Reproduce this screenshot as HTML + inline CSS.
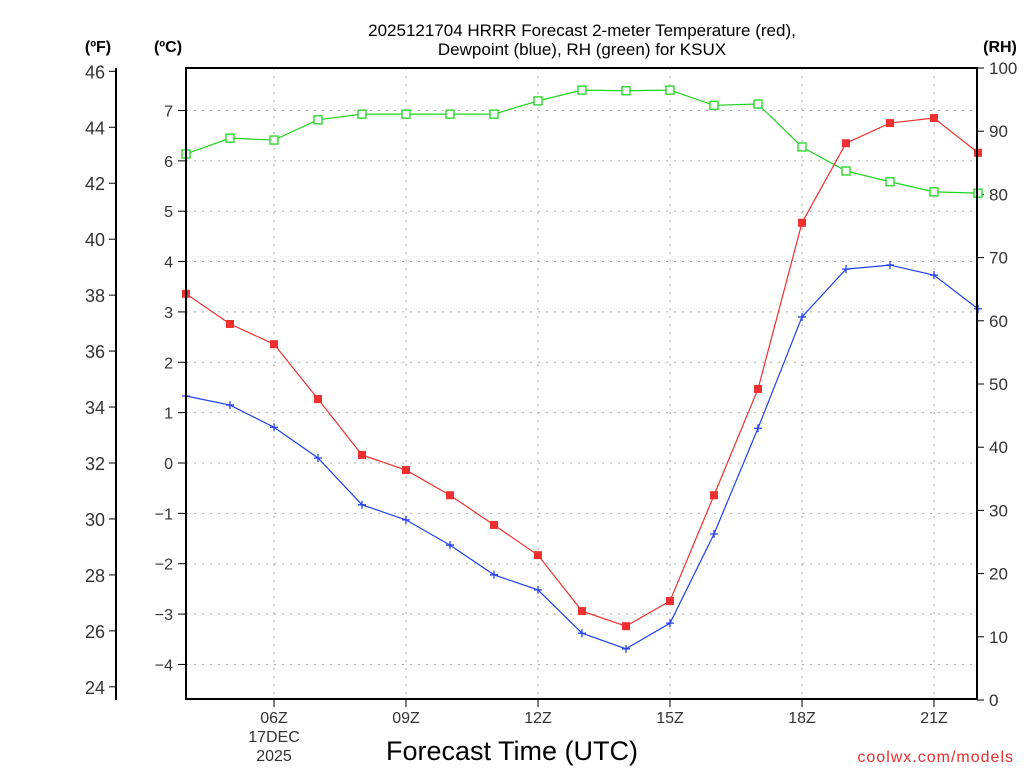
<!DOCTYPE html>
<html><head><meta charset="utf-8"><style>
body{margin:0;background:#fff;width:1024px;height:768px;overflow:hidden}
svg{font-family:"Liberation Sans",sans-serif}
</style></head><body>
<svg id="chart" width="1024" height="768" xmlns="http://www.w3.org/2000/svg">
<text x="582" y="36" font-size="17" text-anchor="middle" fill="#000">2025121704 HRRR Forecast 2-meter Temperature (red),</text>
<text x="582" y="55" font-size="17" text-anchor="middle" fill="#000">Dewpoint (blue), RH (green) for KSUX</text>
<text x="98" y="52" font-size="16" font-weight="bold" text-anchor="middle">(ºF)</text>
<text x="168" y="52" font-size="16" font-weight="bold" text-anchor="middle">(ºC)</text>
<text x="1000" y="52" font-size="16" font-weight="bold" text-anchor="middle">(RH)</text>
<text x="512" y="760" font-size="27" text-anchor="middle">Forecast Time (UTC)</text>
<text x="1014" y="762" font-size="16" text-anchor="end" fill="#e83030" letter-spacing="1">coolwx.com/models</text>
<g id="grid"></g><g id="axes"></g><g id="series"></g>
<rect x="186" y="68" width="791" height="631" fill="none" stroke="#000" stroke-width="2"/>
</svg>
<script>
const hours=[4,5,6,7,8,9,10,11,12,13,14,15,16,17,18,19,20,21,22];
const tempC=[3.36,2.76,2.36,1.27,0.16,-0.14,-0.64,-1.23,-1.83,-2.94,-3.24,-2.74,-0.64,1.47,4.77,6.35,6.75,6.85,6.16];
const dewC=[1.33,1.15,0.71,0.10,-0.83,-1.13,-1.63,-2.22,-2.52,-3.38,-3.69,-3.18,-1.41,0.69,2.90,3.85,3.93,3.73,3.06];
const rh=[86.4,88.9,88.6,91.8,92.7,92.7,92.7,92.7,94.8,96.5,96.4,96.5,94.1,94.3,87.5,83.7,82.0,80.4,80.2];
const cTicks=[7,6,5,4,3,2,1,0,-1,-2,-3,-4];
const fTicks=[46,44,42,40,38,36,34,32,30,28,26,24];
const rhTicks=[100,90,80,70,60,50,40,30,20,10,0];
const xTickHours=[6,9,12,15,18,21];
const xTickLabels=["06Z","09Z","12Z","15Z","18Z","21Z"];
const NS="http://www.w3.org/2000/svg";
const X=h=>186+(h-4)*44;
const YC=c=>463-c*50.36;
const YF=f=>YC((f-32)*5/9);
const YR=r=>700-r*6.32;
function mk(t,a,p){const e=document.createElementNS(NS,t);for(const k in a)e.setAttribute(k,a[k]);p.appendChild(e);return e;}
const grid=document.getElementById('grid'),axes=document.getElementById('axes'),ser=document.getElementById('series');
cTicks.forEach(c=>{
 const g=mk('line',{x1:186,x2:977,y1:YC(c),y2:YC(c),stroke:'#aaa','stroke-dasharray':'2,6'},grid);
 
 mk('line',{x1:178,x2:186,y1:YC(c),y2:YC(c),stroke:'#000'},axes);
 const l=mk('text',{x:173,y:YC(c)+6,'font-size':16,'text-anchor':'end',fill:'#333'},axes);
 l.textContent=c<0?'\u2212'+(-c):c;
 
});
mk('line',{x1:116,x2:116,y1:68,y2:700,stroke:'#000','stroke-width':2},axes);
fTicks.forEach(f=>{
 mk('line',{x1:109,x2:116,y1:YF(f),y2:YF(f),stroke:'#000'},axes);
 const l=mk('text',{x:105,y:YF(f)+7,'font-size':18,'text-anchor':'end',fill:'#333'},axes);
 l.textContent=f;
 
});
rhTicks.forEach(r=>{
 mk('line',{x1:977,x2:984,y1:YR(r),y2:YR(r),stroke:'#000'},axes);
 const l=mk('text',{x:989,y:YR(r)+6,'font-size':17,fill:'#333'},axes);
 l.textContent=r;
 
});
xTickHours.forEach((h,i)=>{
 const g=mk('line',{x1:X(h),x2:X(h),y1:68,y2:700,stroke:'#aaa','stroke-dasharray':'2,6'},grid);
 
 mk('line',{x1:X(h),x2:X(h),y1:700,y2:707,stroke:'#000'},axes);
 const l=mk('text',{x:X(h),y:723,'font-size':16,'text-anchor':'middle',fill:'#333'},axes);
 l.textContent=xTickLabels[i];
 
});
[['17DEC',742],['2025',761]].forEach(([s,y])=>{const l=mk('text',{x:X(6),y:y,'font-size':16,'text-anchor':'middle',fill:'#333'},axes);l.textContent=s;
 });
function line(vals,yf,col,name){
 const pts=vals.map((v,i)=>X(hours[i])+','+yf(v)).join(' ');
 const p=mk('polyline',{points:pts,fill:'none',stroke:col,'stroke-width':1.2},ser);
 
}
line(rh,YR,'#1ed51e','rh');line(tempC,YC,'#f03030','temperature');line(dewC,YC,'#2040f0','dewpoint');
rh.forEach((v,i)=>{const m=mk('rect',{x:X(hours[i])-4,y:YR(v)-4,width:8,height:8,fill:'#fff',stroke:'#1ed51e','stroke-width':1.3},ser);
 });
tempC.forEach((v,i)=>{const m=mk('rect',{x:X(hours[i])-4,y:YC(v)-4,width:8,height:8,fill:'#f03030'},ser);
 });
dewC.forEach((v,i)=>{const x=X(hours[i]),y=YC(v);const m=mk('path',{d:`M${x-4},${y}H${x+4}M${x},${y-4}V${y+4}`,stroke:'#2040f0','stroke-width':1.3},ser);
 });
</script>
</body></html>
